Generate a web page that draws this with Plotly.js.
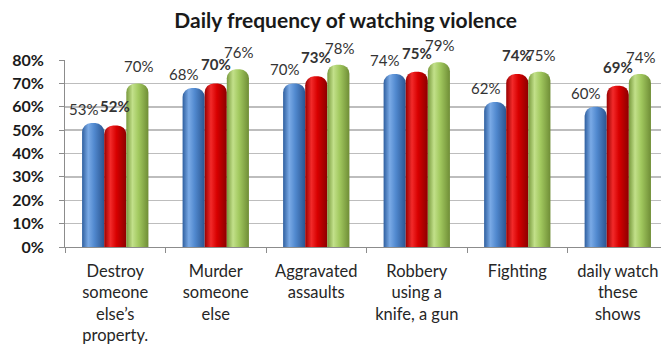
<!DOCTYPE html>
<html>
<head>
<meta charset="utf-8">
<script src="https://cdn.plot.ly/plotly-3.0.1.min.js"></script>
<style>
html,body{margin:0;padding:0;background:#fff;}
#chart{width:661px;height:347px;}
</style>
</head>
<body>
<div id="chart"></div>
<script>
const categories = [
  "Destroy<br>someone<br>else’s<br>property.",
  "Murder<br>someone<br>else",
  "Aggravated<br>assaults",
  "Robbery<br>using a<br>knife, a gun",
  "Fighting",
  "daily watch<br>these<br>shows"
];
const seriesBlue = [0.53, 0.68, 0.70, 0.74, 0.62, 0.60];
const seriesRed = [0.52, 0.70, 0.73, 0.75, 0.74, 0.69];
const seriesGreen = [0.70, 0.76, 0.78, 0.79, 0.75, 0.74];
const yTickVals = [0, 0.1, 0.2, 0.3, 0.4, 0.5, 0.6, 0.7, 0.8];
const yTickText = ["0%", "10%", "20%", "30%", "40%", "50%", "60%", "70%", "80%"];

const FONT = "Lato, 'Open Sans', sans-serif";

const series = [
  {name: "s1", y: seriesBlue, color: "#4f84c8", bold: false, dx: -10, dy: 3},
  {name: "s2", y: seriesRed, color: "#d40000", bold: true, dx: 0, dy: 8},
  {name: "s3", y: seriesGreen, color: "#9cc45a", bold: false, dx: 1, dy: 6}
];

const traces = series.map(s => ({
  type: "bar",
  name: s.name,
  x: categories,
  y: s.y,
  marker: {color: s.color, cornerradius: "45%", line: {width: 0}},
  hoverinfo: "skip"
}));

const barW = 22;
const annotations = [];
series.forEach((s, si) => {
  s.y.forEach((v, i) => {
    const pct = Math.round(v * 100) + "%";
    annotations.push({
      x: categories[i], y: v, xref: "x", yref: "y",
      text: s.bold ? "<b>" + pct + "</b>" : pct,
      showarrow: false, yanchor: "bottom", xanchor: "center",
      xshift: (si - 1) * barW + s.dx, yshift: s.dy,
      font: {family: FONT, size: 15, color: "#333333"}
    });
  });
});

const layout = {
  width: 661, height: 347,
  margin: {l: 65, r: 0, t: 60, b: 100, pad: 0},
  paper_bgcolor: "#ffffff", plot_bgcolor: "#ffffff",
  showlegend: false,
  barmode: "group", bargap: 0.34, bargroupgap: 0,
  title: {
    text: "<b>Daily frequency of watching violence</b>",
    x: 0.523, xanchor: "center", y: 0.94, yanchor: "middle",
    font: {family: FONT, size: 21, color: "#1a1a1a"}
  },
  xaxis: {
    type: "category",
    range: [-0.5, 5.43],
    tickson: "boundaries",
    ticks: "outside", ticklen: 5, tickcolor: "#8c8c8c",
    showline: true, linecolor: "#8c8c8c", linewidth: 1,
    showgrid: false, zeroline: false,
    ticklabelstandoff: 9,
    tickfont: {family: FONT, size: 16.5, color: "#262626"},
    fixedrange: true
  },
  yaxis: {
    range: [0, 0.8],
    tickvals: yTickVals, ticktext: yTickText,
    ticks: "outside", ticklen: 5, tickcolor: "#8c8c8c",
    showline: true, linecolor: "#8c8c8c", linewidth: 1,
    showgrid: true, gridcolor: "#bdbdbd", gridwidth: 1.5,
    zeroline: false,
    ticklabelstandoff: 12,
    tickfont: {family: FONT, size: 16, color: "#1a1a1a", weight: "bold"},
    fixedrange: true
  },
  annotations: annotations
};

const gradients = [
  {id: "gBlue", stops: [["0%", "#2f5f9f"], ["28%", "#7aaae6"], ["55%", "#5189cf"], ["100%", "#2b5590"]]},
  {id: "gRed", stops: [["0%", "#990000"], ["28%", "#f22a2a"], ["55%", "#d80000"], ["100%", "#8c0000"]]},
  {id: "gGreen", stops: [["0%", "#789a3c"], ["28%", "#c2e08a"], ["55%", "#a2c95f"], ["100%", "#6f8d36"]]}
];

Plotly.newPlot("chart", traces, layout, {displayModeBar: false, staticPlot: true}).then(gd => {
  const svg = gd.querySelector("svg.main-svg");
  const NS = "http://www.w3.org/2000/svg";
  let defs = svg.querySelector("defs");
  if (!defs) { defs = document.createElementNS(NS, "defs"); svg.insertBefore(defs, svg.firstChild); }
  gradients.forEach(g => {
    const lg = document.createElementNS(NS, "linearGradient");
    lg.setAttribute("id", g.id);
    lg.setAttribute("x1", "0"); lg.setAttribute("y1", "0");
    lg.setAttribute("x2", "1"); lg.setAttribute("y2", "0");
    g.stops.forEach(st => {
      const s = document.createElementNS(NS, "stop");
      s.setAttribute("offset", st[0]);
      s.setAttribute("stop-color", st[1]);
      lg.appendChild(s);
    });
    defs.appendChild(lg);
  });
  const traceGroups = gd.querySelectorAll(".barlayer .trace");
  traceGroups.forEach((tg, ti) => {
    tg.querySelectorAll("path").forEach(p => {
      p.style.fill = "url(#" + gradients[ti].id + ")";
    });
  });
});
</script>
</body>
</html>
